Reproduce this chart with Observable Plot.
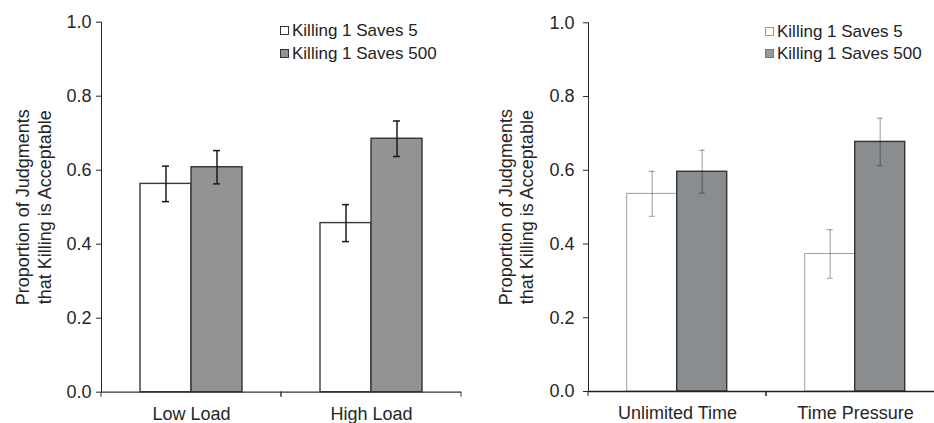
<!DOCTYPE html>
<html>
<head>
<meta charset="utf-8">
<script src="https://cdn.jsdelivr.net/npm/d3@7"></script>
<script src="https://cdn.jsdelivr.net/npm/@observablehq/plot@0.6"></script>
<style>
  html, body { margin: 0; padding: 0; background: #fff; }
  #wrap { position: relative; width: 934px; height: 423px; overflow: hidden; font-family: "Liberation Sans", Arial, sans-serif; }
  .panel { position: absolute; top: 0; height: 423px; overflow: hidden; }
  .panel svg { max-width: none !important; }
  .legend { position: absolute; font-size: 17px; color: #222; line-height: 1; }
  .legend .row { position: absolute; white-space: nowrap; display: flex; align-items: center; }
  .legend .sw { width: 7px; height: 7px; margin-right: 3px; box-sizing: content-box; }
</style>
</head>
<body>
<div id="wrap">
  <div class="panel" id="left" style="left:0;width:470px"></div>
  <div class="panel" id="right" style="left:470px;width:464px"></div>
</div>
<script>
// ---- Data ----
const seriesNames = ["Killing 1 Saves 5", "Killing 1 Saves 500"];
const yTitle = "Proportion of Judgments\nthat Killing is Acceptable";
const yTicks = [0, 0.2, 0.4, 0.6, 0.8, 1.0];

const loadConditions = ["Low Load", "High Load"];
const loadSaves5 = [0.563, 0.457];
const loadSaves5Err = [0.048, 0.050];
const loadSaves500 = [0.608, 0.685];
const loadSaves500Err = [0.045, 0.048];

const timeConditions = ["Unlimited Time", "Time Pressure"];
const timeSaves5 = [0.536, 0.373];
const timeSaves5Err = [0.061, 0.066];
const timeSaves500 = [0.596, 0.677];
const timeSaves500Err = [0.058, 0.064];

function rows(conds, series, vals, errs) {
  return conds.map((c, i) => ({cond: c, series, value: vals[i], err: errs[i]}));
}

function panel(cfg) {
  const r5 = rows(cfg.conds, seriesNames[0], cfg.v5, cfg.e5);
  const r500 = rows(cfg.conds, seriesNames[1], cfg.v500, cfg.e500);
  const all = r5.concat(r500);
  const boundaryTicks = (index, scales, values, dims) => {
    const g = d3.create("svg:g");
    const y0 = dims.height - dims.marginBottom;
    for (const x of [dims.marginLeft, dims.width - dims.marginRight]) {
      g.append("line").attr("x1", x).attr("x2", x).attr("y1", y0).attr("y2", y0 + 5)
        .attr("stroke", cfg.axisColor).attr("stroke-width", 1);
    }
    return g.node();
  };
  return Plot.plot({
    width: cfg.width, height: 423,
    marginLeft: cfg.ml, marginRight: cfg.mr, marginTop: cfg.mt, marginBottom: cfg.mb,
    style: {fontFamily: '"Liberation Sans", Arial, sans-serif', fontSize: "18px", color: "#262626", background: "transparent", overflow: "visible", maxWidth: "none"},
    fx: {domain: cfg.conds, padding: 0, label: null, tickSize: 0, tickPadding: 15, axis: "bottom"},
    x: {domain: seriesNames, paddingInner: 0, paddingOuter: 0.757, axis: null},
    y: {domain: [0, 1], ticks: yTicks, tickFormat: ".1f", label: null, tickSize: 5, tickPadding: cfg.tickPad, line: true},
    marks: [
      Plot.barY(r5, {fx: "cond", x: "series", y: "value", fill: "#ffffff", stroke: cfg.s5Stroke, strokeWidth: cfg.s5Width}),
      Plot.barY(r500, {fx: "cond", x: "series", y: "value", fill: cfg.grayFill, stroke: cfg.s500Stroke, strokeWidth: 1.4}),
      Plot.ruleX(all, {fx: "cond", x: "series", y1: d => d.value - d.err, y2: d => d.value + d.err, stroke: cfg.errColor, strokeOpacity: cfg.errOpacity, strokeWidth: cfg.errWidth}),
      Plot.tickY(all, {fx: "cond", x: "series", y: d => d.value - d.err, stroke: cfg.errColor, strokeOpacity: cfg.errOpacity, strokeWidth: cfg.errWidth, insetLeft: 22, insetRight: 22}),
      Plot.tickY(all, {fx: "cond", x: "series", y: d => d.value + d.err, stroke: cfg.errColor, strokeOpacity: cfg.errOpacity, strokeWidth: cfg.errWidth, insetLeft: 22, insetRight: 22}),
      Plot.ruleY([0], {stroke: cfg.axisColor, strokeWidth: 1.3}),
      boundaryTicks,
      Plot.text([yTitle], {fx: () => cfg.conds[0], text: d => d, frameAnchor: "left", rotate: -90, dx: cfg.titleDx, lineAnchor: "middle", textAnchor: "middle", lineHeight: cfg.titleLH, fontSize: 18, fill: "#262626"})
    ]
  });
}

document.getElementById("left").append(panel({
  conds: loadConditions, v5: loadSaves5, e5: loadSaves5Err, v500: loadSaves500, e500: loadSaves500Err,
  width: 470, ml: 100, mr: 8.3, mt: 21.7, mb: 31.3, tickPad: 5,
  s5Stroke: "#3a3a3a", s5Width: 1.4, s500Stroke: "#333", grayFill: "#939393",
  errColor: "#1a1a1a", errOpacity: 1, errWidth: 1.5, axisColor: "#333", titleDx: -69, titleLH: 1.22
}));
document.getElementById("right").append(panel({
  conds: timeConditions, v5: timeSaves5, e5: timeSaves5Err, v500: timeSaves500, e500: timeSaves500Err,
  width: 480, ml: 117.3, mr: 6, mt: 22.3, mb: 32, tickPad: 9,
  s5Stroke: "#a0a0a0", s5Width: 1, s500Stroke: "#333", grayFill: "#8a8d8f",
  errColor: "#000", errOpacity: 0.3, errWidth: 1.3, axisColor: "#222", titleDx: -73, titleLH: 1.18
}));

// ---- Legends ----
function legend(x, ys, swatches) {
  const wrap = document.getElementById("wrap");
  const lg = document.createElement("div");
  lg.className = "legend";
  seriesNames.forEach((name, i) => {
    const row = document.createElement("div");
    row.className = "row";
    row.style.left = x + "px";
    row.style.top = (ys[i] - 9) + "px";
    row.style.height = "18px";
    const sw = document.createElement("span");
    sw.className = "sw";
    sw.style.background = swatches[i].fill;
    sw.style.border = "1px solid " + swatches[i].stroke;
    const t = document.createElement("span");
    t.textContent = name;
    row.append(sw, t);
    lg.append(row);
  });
  wrap.append(lg);
}
legend(280, [30, 53], [{fill: "#fff", stroke: "#333"}, {fill: "#939393", stroke: "#333"}]);
legend(765, [31, 53.5], [{fill: "#fff", stroke: "#999"}, {fill: "#999", stroke: "#777"}]);
</script>
</body>
</html>
